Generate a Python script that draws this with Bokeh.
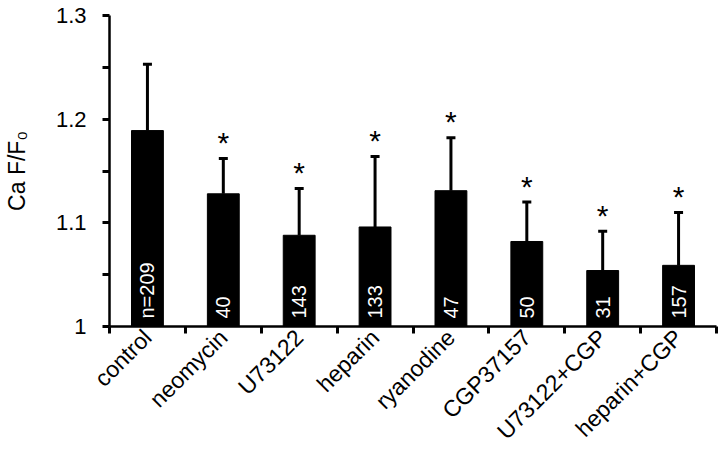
import numpy as np
from bokeh.plotting import figure
from bokeh.models import (ColumnDataSource, Range1d, FixedTicker, Whisker, TeeHead)
from bokeh.core.properties import value
from bokeh.embed import file_html
from bokeh.resources import INLINE

# ---- data ----
categories = ["control", "neomycin", "U73122", "heparin", "ryanodine",
              "CGP37157", "U73122+CGP", "heparin+CGP"]
means = [1.189, 1.128, 1.088, 1.096, 1.131, 1.082, 1.054, 1.059]
errors = [0.064, 0.034, 0.045, 0.068, 0.051, 0.038, 0.038, 0.051]
n_labels = ["n=209", "40", "143", "133", "47", "50", "31", "157"]
significant = [False, True, True, True, True, True, True, True]
y_ticks = [1.0, 1.1, 1.2, 1.3]
y_minor_ticks = [1.05, 1.15, 1.25]
y_tick_labels = ["1", "1.1", "1.2", "1.3"]

FONT = "Liberation Sans"
n = len(categories)
centers = [i + 0.5 for i in range(n)]
bounds = [float(i) for i in range(n + 1)]
uppers = [m + e for m, e in zip(means, errors)]

src = ColumnDataSource(dict(x=centers, top=means, upper=uppers, lab=n_labels,
                            base=[y_ticks[0]] * n))
star_src = ColumnDataSource(dict(
    x=[c for c, s in zip(centers, significant) if s],
    y=[u for u, s in zip(uppers, significant) if s],
    t=["*" for s in significant if s]))

p = figure(width=720, height=456, output_backend="svg", toolbar_location=None,
           x_range=Range1d(0, n), y_range=Range1d(y_ticks[0], y_ticks[-1]),
           min_border_left=106, min_border_right=4, min_border_top=15,
           min_border_bottom=129)
p.outline_line_color = None
p.xgrid.visible = False
p.ygrid.visible = False
p.background_fill_color = "white"
p.border_fill_color = "white"

# bars
p.vbar(x="x", top="top", bottom="base", width=0.42, source=src,
       fill_color="black", line_color="black")

# error bars (upper only)
w = Whisker(source=src, base="x", lower="top", upper="upper",
            line_color="black", line_width=3,
            upper_head=TeeHead(size=9, line_width=3, line_color="black"),
            lower_head=None, level="underlay")
p.add_layout(w)

# n labels inside bars
p.text(x="x", y="base", text="lab", source=src, angle=np.pi / 2,
       text_align="left", text_baseline="middle", y_offset=-8,
       text_color="white", text_font=value(FONT), text_font_size="20px")

# asterisks
p.text(x="x", y="y", text="t", source=star_src, text_align="center",
       text_baseline="alphabetic", y_offset=-16,
       text_color="black", text_font=value(FONT), text_font_size="30px")

# y axis
ya = p.yaxis[0]
ya.ticker = FixedTicker(ticks=y_ticks, minor_ticks=y_minor_ticks)
ya.major_label_overrides = {t: l for t, l in zip(y_ticks, y_tick_labels)}
ya.axis_line_width = 2.5
ya.major_tick_line_width = 3
ya.minor_tick_line_width = 3
ya.major_tick_out = 7
ya.major_tick_in = 0
ya.minor_tick_out = 7
ya.minor_tick_in = 0
ya.major_label_standoff = 16
ya.major_label_text_font = FONT
ya.major_label_text_font_size = "22px"
ya.major_label_text_color = "black"
ya.axis_label = "Ca F/F\u2080"
ya.axis_label_text_font = FONT
ya.axis_label_text_font_size = "23px"
ya.axis_label_text_font_style = "normal"
ya.axis_label_text_color = "black"
ya.axis_label_standoff = 23

# x axis
xa = p.xaxis[0]
xa.ticker = FixedTicker(ticks=centers, minor_ticks=bounds)
xa.major_label_overrides = {c: l for c, l in zip(centers, categories)}
xa.axis_line_width = 2.5
xa.major_tick_out = 0
xa.major_tick_in = 0
xa.major_tick_line_color = None
xa.minor_tick_out = 7
xa.minor_tick_in = 0
xa.minor_tick_line_width = 3
xa.major_label_orientation = np.pi / 4
xa.major_label_standoff = 0
xa.major_label_text_font = FONT
xa.major_label_text_font_size = "23px"
xa.major_label_text_color = "black"

open("out.html", "w").write(file_html(p, INLINE))
